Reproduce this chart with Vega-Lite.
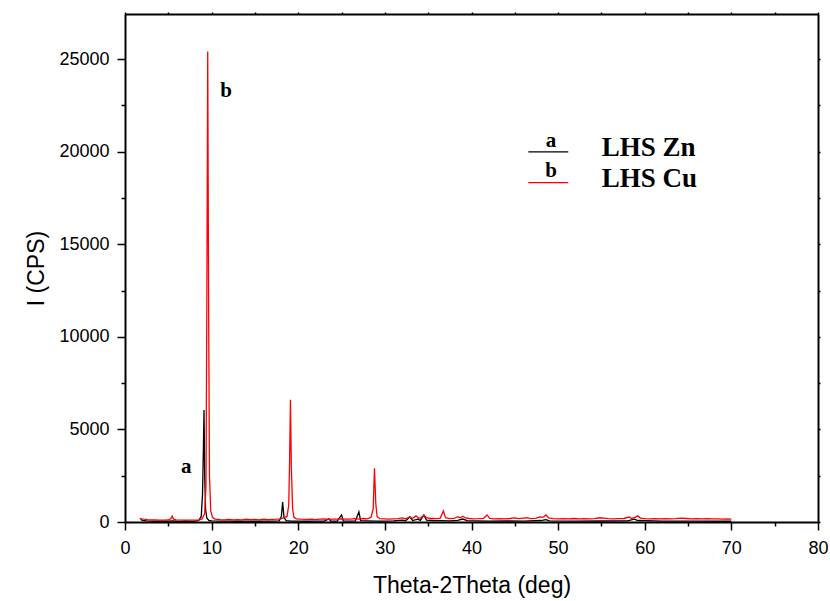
{
  "$schema": "https://vega.github.io/schema/vega-lite/v6.json",
  "autosize": "none",
  "width": 693,
  "height": 508,
  "padding": {"left": 125, "top": 14, "right": 12, "bottom": 79},
  "background": "white",
  "config": {
    "view": {"stroke": null},
    "axis": {
      "domainColor": "black", "domainWidth": 2, "tickColor": "black", "tickWidth": 1.5,
      "labelFont": "Liberation Sans", "labelFontSize": 18, "labelColor": "black",
      "titleFont": "Liberation Sans", "titleFontSize": 23, "titleFontWeight": "normal", "titleColor": "black",
      "grid": false
    }
  },
  "datasets": {
    "zn": [
      {"x": 1.8, "I": 150}, {"x": 2.0, "I": 90}, {"x": 2.5, "I": 60}, {"x": 3.0, "I": 45}, {"x": 4.0, "I": 40},
      {"x": 5.0, "I": 40}, {"x": 5.5, "I": 60}, {"x": 6.0, "I": 40}, {"x": 7.0, "I": 35}, {"x": 8.0, "I": 40},
      {"x": 8.5, "I": 80}, {"x": 8.8, "I": 300}, {"x": 8.95, "I": 1500}, {"x": 9.05, "I": 4000}, {"x": 9.12, "I": 6050},
      {"x": 9.2, "I": 2500}, {"x": 9.3, "I": 700}, {"x": 9.45, "I": 200}, {"x": 9.7, "I": 80}, {"x": 10.0, "I": 60},
      {"x": 11.0, "I": 50}, {"x": 12.0, "I": 45}, {"x": 13.0, "I": 40}, {"x": 14.0, "I": 45}, {"x": 15.0, "I": 40},
      {"x": 16.0, "I": 45}, {"x": 17.0, "I": 50}, {"x": 17.8, "I": 60}, {"x": 18.05, "I": 300}, {"x": 18.2, "I": 1080},
      {"x": 18.35, "I": 250}, {"x": 18.6, "I": 70}, {"x": 19.2, "I": 50}, {"x": 20.0, "I": 45}, {"x": 21.0, "I": 40},
      {"x": 22.0, "I": 50}, {"x": 23.0, "I": 45}, {"x": 23.55, "I": 170}, {"x": 23.75, "I": 50}, {"x": 24.5, "I": 50},
      {"x": 25.0, "I": 380}, {"x": 25.2, "I": 60}, {"x": 26.0, "I": 50}, {"x": 26.6, "I": 60}, {"x": 27.0, "I": 550},
      {"x": 27.2, "I": 70}, {"x": 28.0, "I": 60}, {"x": 29.0, "I": 50}, {"x": 30.0, "I": 50}, {"x": 31.0, "I": 60},
      {"x": 32.0, "I": 100}, {"x": 32.4, "I": 70}, {"x": 32.9, "I": 280}, {"x": 33.2, "I": 80}, {"x": 33.8, "I": 150},
      {"x": 34.1, "I": 90}, {"x": 34.5, "I": 380}, {"x": 34.8, "I": 100}, {"x": 35.5, "I": 80}, {"x": 36.5, "I": 70},
      {"x": 37.5, "I": 60}, {"x": 38.4, "I": 90}, {"x": 39.0, "I": 160}, {"x": 39.5, "I": 70}, {"x": 40.5, "I": 60},
      {"x": 42.0, "I": 50}, {"x": 44.0, "I": 55}, {"x": 46.0, "I": 50}, {"x": 48.0, "I": 80}, {"x": 48.6, "I": 130},
      {"x": 49.0, "I": 60}, {"x": 52.0, "I": 50}, {"x": 55.0, "I": 55}, {"x": 58.0, "I": 60}, {"x": 58.8, "I": 150},
      {"x": 59.2, "I": 80}, {"x": 62.0, "I": 50}, {"x": 66.0, "I": 50}, {"x": 70.0, "I": 40}
    ],
    "cu": [
      {"x": 1.7, "I": 200}, {"x": 1.9, "I": 170}, {"x": 2.2, "I": 150}, {"x": 2.6, "I": 130}, {"x": 3.0, "I": 115},
      {"x": 3.5, "I": 110}, {"x": 4.0, "I": 105}, {"x": 4.5, "I": 100}, {"x": 5.0, "I": 110}, {"x": 5.3, "I": 180},
      {"x": 5.45, "I": 320}, {"x": 5.6, "I": 150}, {"x": 5.9, "I": 110}, {"x": 6.5, "I": 100}, {"x": 7.0, "I": 95},
      {"x": 7.5, "I": 100}, {"x": 8.0, "I": 100}, {"x": 8.5, "I": 120}, {"x": 8.9, "I": 170}, {"x": 9.2, "I": 450},
      {"x": 9.35, "I": 2000}, {"x": 9.45, "I": 12000}, {"x": 9.55, "I": 25400}, {"x": 9.65, "I": 12000}, {"x": 9.75, "I": 2500},
      {"x": 9.9, "I": 600}, {"x": 10.1, "I": 250}, {"x": 10.4, "I": 160}, {"x": 11.0, "I": 130}, {"x": 11.5, "I": 120},
      {"x": 12.0, "I": 140}, {"x": 12.5, "I": 120}, {"x": 13.0, "I": 130}, {"x": 13.5, "I": 110}, {"x": 14.0, "I": 150},
      {"x": 14.5, "I": 130}, {"x": 15.0, "I": 140}, {"x": 15.5, "I": 120}, {"x": 16.0, "I": 150}, {"x": 16.5, "I": 130},
      {"x": 17.0, "I": 140}, {"x": 17.5, "I": 150}, {"x": 18.0, "I": 170}, {"x": 18.4, "I": 250}, {"x": 18.7, "I": 300},
      {"x": 18.9, "I": 900}, {"x": 19.0, "I": 3200}, {"x": 19.1, "I": 6600}, {"x": 19.2, "I": 3000}, {"x": 19.35, "I": 700},
      {"x": 19.5, "I": 250}, {"x": 19.8, "I": 170}, {"x": 20.3, "I": 150}, {"x": 21.0, "I": 140}, {"x": 21.5, "I": 160},
      {"x": 22.0, "I": 130}, {"x": 22.5, "I": 150}, {"x": 23.0, "I": 170}, {"x": 23.5, "I": 140}, {"x": 24.0, "I": 160},
      {"x": 24.5, "I": 150}, {"x": 25.0, "I": 170}, {"x": 25.5, "I": 150}, {"x": 26.0, "I": 160}, {"x": 26.5, "I": 180},
      {"x": 27.0, "I": 160}, {"x": 27.5, "I": 190}, {"x": 28.0, "I": 170}, {"x": 28.4, "I": 250}, {"x": 28.65, "I": 700},
      {"x": 28.8, "I": 2900}, {"x": 28.95, "I": 1000}, {"x": 29.1, "I": 300}, {"x": 29.4, "I": 180}, {"x": 30.0, "I": 170},
      {"x": 30.5, "I": 160}, {"x": 31.0, "I": 170}, {"x": 31.5, "I": 180}, {"x": 32.0, "I": 220}, {"x": 32.4, "I": 170},
      {"x": 32.8, "I": 260}, {"x": 33.2, "I": 200}, {"x": 33.6, "I": 330}, {"x": 33.9, "I": 200}, {"x": 34.2, "I": 240},
      {"x": 34.5, "I": 360}, {"x": 34.8, "I": 240}, {"x": 35.2, "I": 190}, {"x": 35.6, "I": 200}, {"x": 36.0, "I": 180},
      {"x": 36.4, "I": 210}, {"x": 36.75, "I": 600}, {"x": 37.0, "I": 230}, {"x": 37.5, "I": 180}, {"x": 38.0, "I": 190},
      {"x": 38.4, "I": 290}, {"x": 38.7, "I": 230}, {"x": 39.0, "I": 310}, {"x": 39.3, "I": 220}, {"x": 39.7, "I": 190},
      {"x": 40.2, "I": 170}, {"x": 40.8, "I": 180}, {"x": 41.4, "I": 200}, {"x": 41.8, "I": 380}, {"x": 42.1, "I": 190},
      {"x": 42.6, "I": 170}, {"x": 43.2, "I": 180}, {"x": 43.8, "I": 170}, {"x": 44.4, "I": 190}, {"x": 45.0, "I": 220},
      {"x": 45.4, "I": 180}, {"x": 46.0, "I": 210}, {"x": 46.4, "I": 230}, {"x": 46.8, "I": 180}, {"x": 47.4, "I": 200},
      {"x": 47.9, "I": 280}, {"x": 48.3, "I": 260}, {"x": 48.6, "I": 380}, {"x": 48.9, "I": 220}, {"x": 49.4, "I": 180},
      {"x": 50.0, "I": 170}, {"x": 50.6, "I": 180}, {"x": 51.2, "I": 170}, {"x": 51.8, "I": 190}, {"x": 52.4, "I": 170},
      {"x": 53.0, "I": 180}, {"x": 53.6, "I": 170}, {"x": 54.2, "I": 180}, {"x": 54.8, "I": 230}, {"x": 55.3, "I": 210},
      {"x": 55.8, "I": 180}, {"x": 56.4, "I": 170}, {"x": 57.0, "I": 180}, {"x": 57.6, "I": 190}, {"x": 58.2, "I": 270},
      {"x": 58.5, "I": 190}, {"x": 58.8, "I": 240}, {"x": 59.2, "I": 330}, {"x": 59.5, "I": 210}, {"x": 60.0, "I": 180},
      {"x": 60.6, "I": 170}, {"x": 61.2, "I": 180}, {"x": 61.8, "I": 170}, {"x": 62.4, "I": 175}, {"x": 63.0, "I": 170},
      {"x": 63.6, "I": 180}, {"x": 64.2, "I": 210}, {"x": 64.8, "I": 190}, {"x": 65.4, "I": 170}, {"x": 66.0, "I": 180},
      {"x": 66.6, "I": 170}, {"x": 67.2, "I": 175}, {"x": 67.8, "I": 165}, {"x": 68.4, "I": 170}, {"x": 69.0, "I": 160},
      {"x": 69.6, "I": 165}, {"x": 70.0, "I": 160}
    ],
    "legendLines": [
      {"x1": 46.56, "x2": 51.17, "y": 19980, "series": "LHS Zn"},
      {"x1": 46.56, "x2": 51.17, "y": 18325, "series": "LHS Cu"}
    ],
    "letters": [
      {"x": 49.18, "y": 20266, "t": "a"},
      {"x": 49.2, "y": 18648, "t": "b"},
      {"x": 7.07, "y": 2662, "t": "a"},
      {"x": 11.67, "y": 22968, "t": "b"}
    ],
    "names": [
      {"x": 55.03, "y": 19766, "t": "LHS Zn"},
      {"x": 55.03, "y": 18108, "t": "LHS Cu"}
    ]
  },
  "resolve": {"axis": {"x": "independent", "y": "independent"}},
  "layer": [
    {
      "data": {"name": "zn"},
      "mark": {"type": "line", "color": "black", "strokeWidth": 1.3},
      "encoding": {
        "x": {"field": "x", "type": "quantitative",
              "scale": {"domain": [0, 80], "nice": false, "zero": false},
              "axis": {"orient": "bottom", "title": "Theta-2Theta (deg)",
                       "values": [0, 5, 10, 15, 20, 25, 30, 35, 40, 45, 50, 55, 60, 65, 70, 75, 80],
                       "labelExpr": "datum.value % 10 === 0 ? datum.label : ''",
                       "tickSize": {"condition": {"test": "datum.value % 10 === 0", "value": 8}, "value": 4},
                       "labelPadding": 9, "titlePadding": 17, "labelFlush": false, "labelOverlap": false}},
        "y": {"field": "I", "type": "quantitative",
              "scale": {"domain": [0, 27430], "nice": false, "zero": false},
              "axis": {"orient": "left", "title": "I (CPS)", "format": "d",
                       "values": [0, 2500, 5000, 7500, 10000, 12500, 15000, 17500, 20000, 22500, 25000],
                       "labelExpr": "datum.value % 5000 === 0 ? datum.label : ''",
                       "tickSize": {"condition": {"test": "datum.value % 5000 === 0", "value": 8}, "value": 4},
                       "labelPadding": 8, "titlePadding": 10, "labelOverlap": false}}
      }
    },
    {
      "data": {"name": "cu"},
      "mark": {"type": "line", "color": "#ff0000", "strokeWidth": 1.3},
      "encoding": {
        "x": {"field": "x", "type": "quantitative", "axis": null},
        "y": {"field": "I", "type": "quantitative", "axis": null}
      }
    },
    {
      "data": {"name": "legendLines"},
      "mark": {"type": "rule", "strokeWidth": 1.3},
      "encoding": {
        "x": {"field": "x1", "type": "quantitative",
              "axis": {"orient": "top", "title": null, "labels": false,
                       "values": [0, 5, 10, 15, 20, 25, 30, 35, 40, 45, 50, 55, 60, 65, 70, 75, 80],
                       "tickSize": 2}},
        "x2": {"field": "x2"},
        "y": {"field": "y", "type": "quantitative",
              "axis": {"orient": "right", "title": null, "labels": false,
                       "values": [0, 2500, 5000, 7500, 10000, 12500, 15000, 17500, 20000, 22500, 25000],
                       "tickSize": 2}},
        "color": {"field": "series", "type": "nominal",
                  "scale": {"domain": ["LHS Zn", "LHS Cu"], "range": ["black", "#ff0000"]},
                  "legend": null}
      }
    },
    {
      "data": {"name": "letters"},
      "mark": {"type": "text", "font": "Liberation Serif", "fontWeight": "bold", "fontSize": 21,
               "align": "center", "baseline": "alphabetic", "color": "black"},
      "encoding": {
        "x": {"field": "x", "type": "quantitative", "axis": null},
        "y": {"field": "y", "type": "quantitative", "axis": null},
        "text": {"field": "t"}
      }
    },
    {
      "data": {"name": "names"},
      "mark": {"type": "text", "font": "Liberation Serif", "fontWeight": "bold", "fontSize": 27,
               "align": "left", "baseline": "alphabetic", "color": "black"},
      "encoding": {
        "x": {"field": "x", "type": "quantitative", "axis": null},
        "y": {"field": "y", "type": "quantitative", "axis": null},
        "text": {"field": "t"}
      }
    }
  ]
}
